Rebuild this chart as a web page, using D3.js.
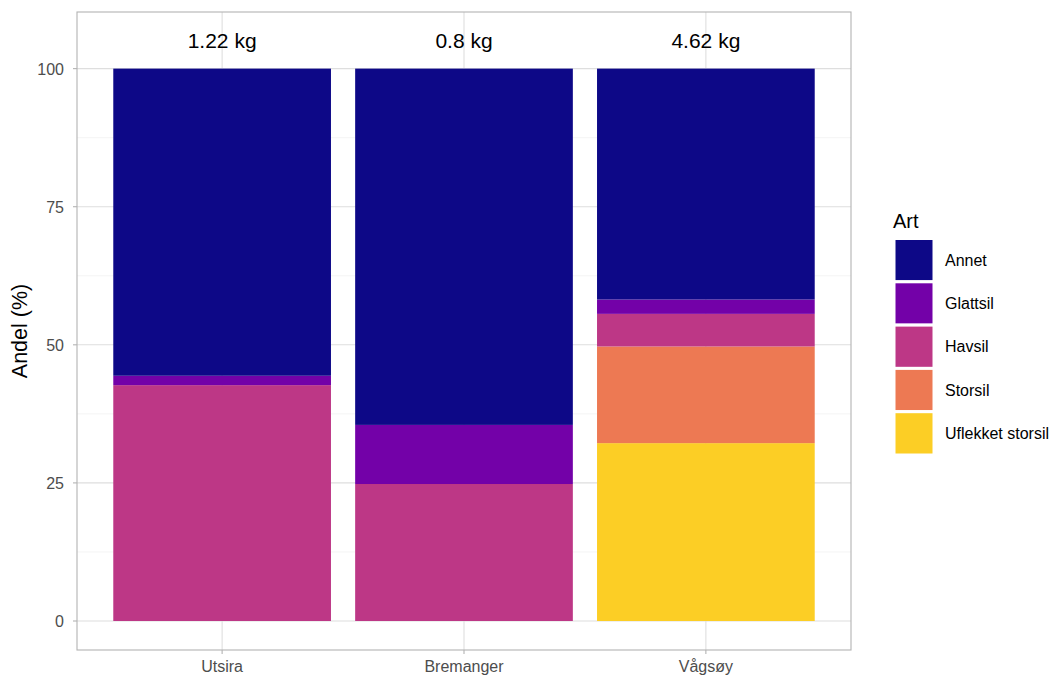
<!DOCTYPE html>
<html><head><meta charset="utf-8">
<script src="https://cdn.jsdelivr.net/npm/d3@7"></script>
<style>body{margin:0;background:#fff;font-family:"Liberation Sans",Arial,sans-serif;}</style>
</head><body>
<svg id="c" width="1052" height="677"></svg>
<script>
const categories = ["Utsira", "Bremanger", "Vågsøy"];
const species = ["Annet", "Glattsil", "Havsil", "Storsil", "Uflekket storsil"];
const colors = ["#0D0887", "#7301A8", "#BD3786", "#ED7953", "#FCCE25"];
const annet = [55.6, 64.5, 41.8];
const glattsil = [1.7, 10.7, 2.6];
const havsil = [42.7, 24.8, 5.9];
const storsil = [0, 0, 17.5];
const uflekket = [0, 0, 32.2];
const totals = ["1.22 kg", "0.8 kg", "4.62 kg"];
const yTicks = [0, 25, 50, 75, 100];
const yMinor = [12.5, 37.5, 62.5, 87.5];

const seriesVals = {"Annet": annet, "Glattsil": glattsil, "Havsil": havsil, "Storsil": storsil, "Uflekket storsil": uflekket};
const rows = categories.map((c, i) => {
  const r = {cat: c};
  species.forEach(s => r[s] = seriesVals[s][i]);
  return r;
});

const svg = d3.select("#c");
const P = {l: 77, r: 851, t: 12, b: 650};
// ggplot-like discrete positioning: 3 categories with 0.6 unit expansion
const x = d3.scaleLinear().domain([0.4, 3.6]).range([P.l, P.r]);
const cx = c => x(categories.indexOf(c) + 1);
const bw = x(1.9) - x(1);
const y = d3.scaleLinear().domain([-5.25, 110.25]).range([P.b, P.t]);
const color = d3.scaleOrdinal().domain(species).range(colors);

// gridlines
const g = svg.append("g");
g.selectAll(".minor").data(yMinor).join("line")
  .attr("x1", P.l).attr("x2", P.r).attr("y1", d => y(d)).attr("y2", d => y(d))
  .attr("stroke", "#ebebeb").attr("stroke-width", 0.55);
g.selectAll(".major").data(yTicks).join("line")
  .attr("x1", P.l).attr("x2", P.r).attr("y1", d => y(d)).attr("y2", d => y(d))
  .attr("stroke", "#dedede").attr("stroke-width", 1.1);
g.selectAll(".vmaj").data(categories).join("line")
  .attr("x1", d => cx(d)).attr("x2", d => cx(d)).attr("y1", P.t).attr("y2", P.b)
  .attr("stroke", "#dedede").attr("stroke-width", 1.1);

// stacked bars (bottom: Uflekket storsil ... top: Annet)
const stackOrder = species.slice().reverse();
const stack = d3.stack().keys(stackOrder)(rows);
svg.append("g").selectAll("g").data(stack).join("g")
  .attr("fill", d => color(d.key))
  .selectAll("rect").data(d => d).join("rect")
  .attr("x", d => cx(d.data.cat) - bw / 2)
  .attr("width", bw)
  .attr("y", d => y(d[1]))
  .attr("height", d => Math.max(0, y(d[0]) - y(d[1])));

// total labels
svg.append("g").selectAll("text").data(categories).join("text")
  .attr("x", d => cx(d)).attr("y", y(105) + 7)
  .attr("text-anchor", "middle").attr("font-size", 21).attr("fill", "#000")
  .text((d, i) => totals[i]);

// panel border
svg.append("rect").attr("x", P.l).attr("y", P.t).attr("width", P.r - P.l).attr("height", P.b - P.t)
  .attr("fill", "none").attr("stroke", "#b3b3b3").attr("stroke-width", 1.1);

// y axis
const ya = svg.append("g");
ya.selectAll("line").data(yTicks).join("line")
  .attr("x1", P.l - 4).attr("x2", P.l).attr("y1", d => y(d)).attr("y2", d => y(d))
  .attr("stroke", "#b3b3b3").attr("stroke-width", 1.1);
ya.selectAll("text").data(yTicks).join("text")
  .attr("x", P.l - 13).attr("y", d => y(d) + 6).attr("text-anchor", "end")
  .attr("font-size", 16).attr("fill", "#4d4d4d").text(d => d);
svg.append("text").attr("transform", `translate(27,${(P.t + P.b) / 2}) rotate(-90)`)
  .attr("text-anchor", "middle").attr("font-size", 21.5).attr("fill", "#000").text("Andel (%)");

// x axis
const xa = svg.append("g");
xa.selectAll("line").data(categories).join("line")
  .attr("x1", d => cx(d)).attr("x2", d => cx(d)).attr("y1", P.b).attr("y2", P.b + 4)
  .attr("stroke", "#b3b3b3").attr("stroke-width", 1.1);
xa.selectAll("text").data(categories).join("text")
  .attr("x", d => cx(d)).attr("y", P.b + 22).attr("text-anchor", "middle")
  .attr("font-size", 16).attr("fill", "#4d4d4d").text(d => d);

// legend
const lg = svg.append("g");
lg.append("text").attr("x", 893).attr("y", 228).attr("font-size", 20).attr("fill", "#000").text("Art");
const keyH = 43.3;
lg.selectAll("rect").data(species).join("rect")
  .attr("x", 894).attr("y", (d, i) => 238.5 + i * keyH).attr("width", 40).attr("height", keyH)
  .attr("fill", d => color(d)).attr("stroke", "#fff").attr("stroke-width", 3);
lg.selectAll(".lt").data(species).join("text")
  .attr("x", 945).attr("y", (d, i) => 238.5 + i * keyH + keyH / 2 + 5.5)
  .attr("font-size", 16).attr("fill", "#000").text(d => d);
</script>
</body></html>
